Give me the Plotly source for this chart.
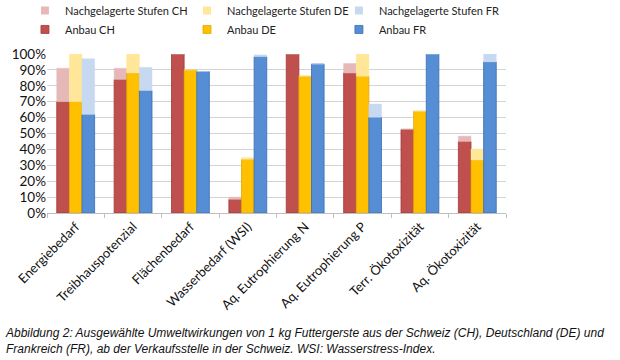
import plotly.graph_objects as go

categories = ["Energiebedarf", "Treibhauspotenzial", "Flächenbedarf", "Wasserbedarf (WSI)",
              "Aq. Eutrophierung N", "Aq. Eutrophierung P", "Terr. Ökotoxizität", "Aq. Ökotoxizität"]

anbau_ch = [70, 84, 100, 8.6, 100, 88, 52.6, 45]
anbau_de = [70, 88, 90, 33.8, 86, 86, 64, 33.3]
anbau_fr = [62, 77, 89, 98.3, 93.7, 60.2, 100, 95]

total_ch = [91, 91, 100, 9.9, 100, 94, 52.6, 48.3]
total_de = [100, 100, 90, 34.8, 86, 100, 64, 40.2]
total_fr = [97, 91.6, 89, 99.4, 93.7, 68.5, 100, 100]

y_ticks = [0, 10, 20, 30, 40, 50, 60, 70, 80, 90, 100]

series = [
    ("CH", anbau_ch, total_ch, "#C0504D", "#9E3A37", "#E6B9B8", "legend"),
    ("DE", anbau_de, total_de, "#FFC000", "#E0A800", "#FFE699", "legend2"),
    ("FR", anbau_fr, total_fr, "#558ED5", "#3A6DB0", "#C6D9F1", "legend3"),
]

fig = go.Figure()
for code, anbau, total, col, dark, light, lg in series:
    nach = [t - a for t, a in zip(total, anbau)]
    fig.add_trace(go.Bar(x=categories, y=[v / 100 for v in anbau], offsetgroup=code,
                         marker=dict(color=col, line=dict(color=dark, width=0.8)),
                         showlegend=False, hoverinfo="skip"))
    fig.add_trace(go.Bar(x=categories, y=[v / 100 for v in nach], base=[v / 100 for v in anbau],
                         offsetgroup=code,
                         marker=dict(color=light, line=dict(color=light, width=0.5)),
                         showlegend=False, hoverinfo="skip"))
    # legend entries
    fig.add_trace(go.Scatter(x=[None], y=[None], mode="markers", name="Nachgelagerte Stufen " + code,
                             marker=dict(symbol="square", size=8, color=light), legend=lg))
    fig.add_trace(go.Scatter(x=[None], y=[None], mode="markers", name="Anbau " + code,
                             marker=dict(symbol="square", size=8, color=col,
                                         line=dict(color=dark, width=0.8)), legend=lg))

font_main = "Lato, Carlito, Calibri, sans-serif"
legend_common = dict(orientation="v", yanchor="top", y=1.365, xanchor="left",
                     font=dict(family=font_main, size=11, color="#222"),
                     bgcolor="rgba(0,0,0,0)", itemwidth=30, tracegroupgap=0)

fig.update_layout(
    width=620, height=360,
    margin=dict(l=47, r=114, t=54, b=147, autoexpand=False),
    paper_bgcolor="white", plot_bgcolor="white",
    barmode="group", bargap=0.34, bargroupgap=0,
    font=dict(family=font_main, size=12, color="#222"),
    legend=dict(x=-0.048, **legend_common),
    legend2=dict(x=0.305, **legend_common),
    legend3=dict(x=0.636, **legend_common),
    xaxis=dict(showline=True, linecolor="#BFBFBF", linewidth=1, ticks="outside",
               tickson="boundaries", ticklen=4, tickcolor="#BFBFBF", tickangle=-45,
               tickfont=dict(family=font_main, size=13, color="#111"), showgrid=False,
               automargin=False),
    yaxis=dict(range=[0, 1], tickvals=[v / 100 for v in y_ticks],
               ticktext=[f"{v}%" for v in y_ticks], showgrid=True, gridcolor="#D4D4D4",
               gridwidth=1, zeroline=False, showline=False, ticks="", ticklen=4,
               tickfont=dict(family=font_main, size=13.5, color="#111"), automargin=False),
    annotations=[dict(
        text="<i>Abbildung 2: Ausgewählte Umweltwirkungen von 1 kg Futtergerste aus der Schweiz (CH), "
             "Deutschland (DE) und<br>Frankreich (FR), ab der Verkaufsstelle in der Schweiz. "
             "WSI: Wasserstress-Index.</i>",
        xref="paper", yref="paper", x=-0.0959, y=-0.70, xanchor="left", yanchor="top",
        align="left", showarrow=False,
        font=dict(family="Liberation Sans, Arial, sans-serif", size=12, color="#111"))],
)

fig.write_html("out.html", config={"displayModeBar": False},
               post_script="document.body.style.margin='0';")
